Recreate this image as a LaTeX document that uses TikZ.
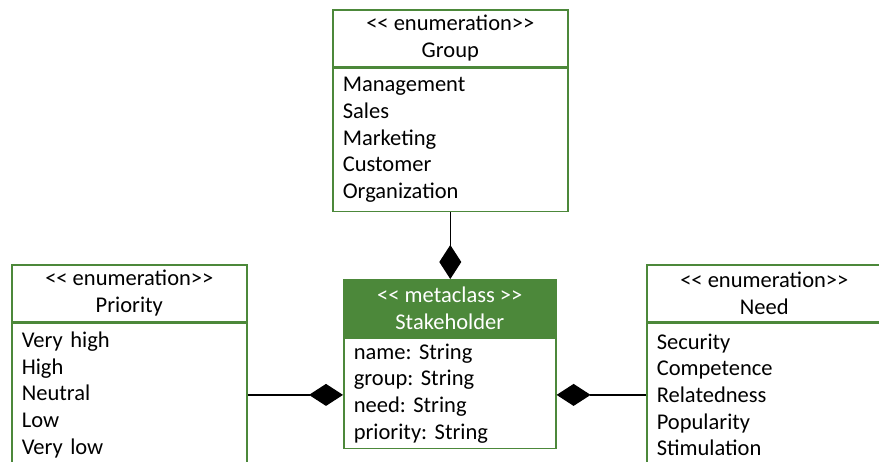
\documentclass[tikz,border=0pt]{standalone}
\usepackage{fontspec}
\setmainfont{Carlito}
\usepackage{xcolor}
\usetikzlibrary{positioning,arrows.meta}
\definecolor{umlgreen}{RGB}{76,136,58}
\frenchspacing

\begin{document}
\begin{tikzpicture}[x=1pt, y=-1pt,
        font=\fontsize{22.5}{26.7}\selectfont,
        classhead/.style={draw=umlgreen, line width=1.6pt, minimum width=235pt, minimum height=57pt, inner sep=0pt, align=center, anchor=north west},
        classbody/.style={draw=umlgreen, line width=1.6pt, text width=215pt, inner xsep=10pt, inner ysep=0pt, align=left, anchor=north},
        compose/.style={draw=black, line width=1.2pt, -{Diamond[length=34pt, width=22pt]}}]
        \clip (0,0) rectangle (879,461);

        \node[classhead] (grouphead) at (332,9) {<{}< enumeration>{}>\\Group};
        \node[classbody, minimum height=143pt] (groupbody) at (grouphead.south) {Management\\Sales\\Marketing\\Customer\\Organization};

        \node[classhead] (priorityhead) at (11,264) {<{}< enumeration>{}>\\Priority};
        \node[classbody, minimum height=143pt] (prioritybody) at (priorityhead.south) {Very high\\High\\Neutral\\Low\\Very low};

        \node[classhead] (needhead) at (646,264) {<{}< enumeration>{}>\\Need};
        \node[classbody, minimum height=143pt] (needbody) at (needhead.south) {Security\\Competence\\Relatedness\\Popularity\\Stimulation};

        \node[classhead, minimum width=212pt, fill=umlgreen, text=white] (shhead) at (343,279) {<{}< metaclass >{}>\\Stakeholder};
        \node[classbody, text width=192pt, minimum height=110pt] (shbody) at (shhead.south) {name: String\\group: String\\need: String\\priority: String};

        \draw[compose] (groupbody.south) -- (groupbody.south |- shhead.north);
        \draw[compose] (prioritybody.east) -- (prioritybody.east -| shbody.west);
        \draw[compose] (needbody.west) -- (needbody.west -| shbody.east);
    \end{tikzpicture}
\end{document}
